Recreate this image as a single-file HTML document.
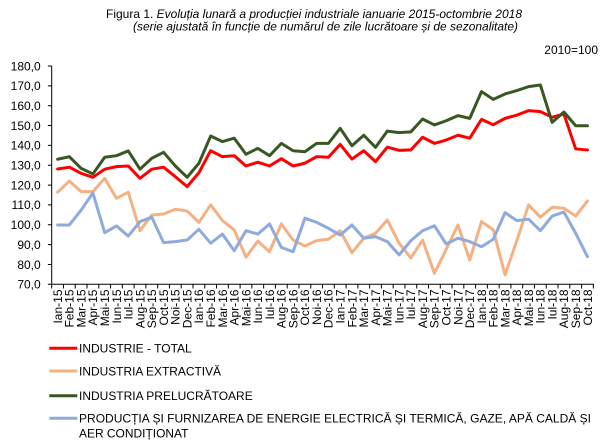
<!DOCTYPE html>
<html><head><meta charset="utf-8"><style>
html,body{margin:0;padding:0;background:#fff;}
svg{display:block;}
text{font-family:"Liberation Sans",Arial,sans-serif;font-size:12px;fill:#000;}
</style></head><body>
<svg width="612" height="443" viewBox="0 0 612 443" xmlns="http://www.w3.org/2000/svg">
<rect width="612" height="443" fill="#fff"/>
<!-- title -->
<text x="106" y="18" textLength="416" lengthAdjust="spacingAndGlyphs">Figura 1. <tspan font-style="italic">Evoluția lunară a producției industriale ianuarie 2015-octombrie 2018</tspan></text>
<text x="133" y="30.5" font-style="italic" textLength="385" lengthAdjust="spacingAndGlyphs">(serie ajustată în funcție de numărul de zile lucrătoare și de sezonalitate)</text>
<text x="598" y="54" text-anchor="end">2010=100</text>

<!-- axes -->
<line x1="51.7" y1="66" x2="51.7" y2="284.3" stroke="#000" stroke-width="1"/>
<line x1="51.2" y1="284.3" x2="593.8" y2="284.3" stroke="#000" stroke-width="1"/>
<line x1="49.8" y1="65.5" x2="49.8" y2="285" stroke="#000" stroke-width="3.8" stroke-dasharray="1 18.845"/>
<line x1="51.2" y1="286.4" x2="594.5" y2="286.4" stroke="#000" stroke-width="4.2" stroke-dasharray="1 10.775"/>

<!-- y labels -->
<g text-anchor="end">
<text x="40.7" y="70.3">180,0</text>
<text x="40.7" y="90.15">170,0</text>
<text x="40.7" y="110">160,0</text>
<text x="40.7" y="129.8">150,0</text>
<text x="40.7" y="149.7">140,0</text>
<text x="40.7" y="169.5">130,0</text>
<text x="40.7" y="189.4">120,0</text>
<text x="40.7" y="209.2">110,0</text>
<text x="40.7" y="229.1">100,0</text>
<text x="40.7" y="248.9">90,0</text>
<text x="40.7" y="268.8">80,0</text>
<text x="40.7" y="288.6">70,0</text>
</g>

<!-- x labels -->
<g text-anchor="end">
<text transform="translate(61.9,289.5) rotate(-90)">Ian-15</text>
<text transform="translate(73.68,289.5) rotate(-90)">Feb-15</text>
<text transform="translate(85.45,289.5) rotate(-90)">Mar-15</text>
<text transform="translate(97.23,289.5) rotate(-90)">Apr-15</text>
<text transform="translate(109,289.5) rotate(-90)">Mai-15</text>
<text transform="translate(120.78,289.5) rotate(-90)">Iun-15</text>
<text transform="translate(132.55,289.5) rotate(-90)">Iul-15</text>
<text transform="translate(144.33,289.5) rotate(-90)">Aug-15</text>
<text transform="translate(156.1,289.5) rotate(-90)">Sep-15</text>
<text transform="translate(167.88,289.5) rotate(-90)">Oct-15</text>
<text transform="translate(179.65,289.5) rotate(-90)">Noi-15</text>
<text transform="translate(191.43,289.5) rotate(-90)">Dec-15</text>
<text transform="translate(203.2,289.5) rotate(-90)">Ian-16</text>
<text transform="translate(214.98,289.5) rotate(-90)">Feb-16</text>
<text transform="translate(226.75,289.5) rotate(-90)">Mar-16</text>
<text transform="translate(238.53,289.5) rotate(-90)">Apr-16</text>
<text transform="translate(250.3,289.5) rotate(-90)">Mai-16</text>
<text transform="translate(262.08,289.5) rotate(-90)">Iun-16</text>
<text transform="translate(273.85,289.5) rotate(-90)">Iul-16</text>
<text transform="translate(285.63,289.5) rotate(-90)">Aug-16</text>
<text transform="translate(297.4,289.5) rotate(-90)">Sep-16</text>
<text transform="translate(309.18,289.5) rotate(-90)">Oct-16</text>
<text transform="translate(320.95,289.5) rotate(-90)">Noi-16</text>
<text transform="translate(332.73,289.5) rotate(-90)">Dec-16</text>
<text transform="translate(344.5,289.5) rotate(-90)">Ian-17</text>
<text transform="translate(356.28,289.5) rotate(-90)">Feb-17</text>
<text transform="translate(368.05,289.5) rotate(-90)">Mar-17</text>
<text transform="translate(379.83,289.5) rotate(-90)">Apr-17</text>
<text transform="translate(391.6,289.5) rotate(-90)">Mai-17</text>
<text transform="translate(403.38,289.5) rotate(-90)">Iun-17</text>
<text transform="translate(415.15,289.5) rotate(-90)">Iul-17</text>
<text transform="translate(426.93,289.5) rotate(-90)">Aug-17</text>
<text transform="translate(438.7,289.5) rotate(-90)">Sep-17</text>
<text transform="translate(450.48,289.5) rotate(-90)">Oct-17</text>
<text transform="translate(462.25,289.5) rotate(-90)">Noi-17</text>
<text transform="translate(474.03,289.5) rotate(-90)">Dec-17</text>
<text transform="translate(485.8,289.5) rotate(-90)">Ian-18</text>
<text transform="translate(497.58,289.5) rotate(-90)">Feb-18</text>
<text transform="translate(509.35,289.5) rotate(-90)">Mar-18</text>
<text transform="translate(521.13,289.5) rotate(-90)">Apr-18</text>
<text transform="translate(532.9,289.5) rotate(-90)">Mai-18</text>
<text transform="translate(544.68,289.5) rotate(-90)">Iun-18</text>
<text transform="translate(556.45,289.5) rotate(-90)">Iul-18</text>
<text transform="translate(568.23,289.5) rotate(-90)">Aug-18</text>
<text transform="translate(580,289.5) rotate(-90)">Sep-18</text>
<text transform="translate(591.78,289.5) rotate(-90)">Oct-18</text>
</g>

<!-- series -->
<g transform="matrix(11.775 0 0 -1.9845 57.6 423.2)" fill="none" stroke-width="3" stroke-linejoin="round" stroke-linecap="round">
<polyline vector-effect="non-scaling-stroke" stroke="#FF0000" points="0,128.1 1,129 2,125.9 3,123.9 4,128 5,129.3 6,129.6 7,123.4 8,128 9,129 10,124.2 11,119.2 12,126.2 13,137.3 14,134.3 15,134.8 16,129.6 17,131.5 18,129.6 19,133.3 20,129.6 21,131 22,134.3 23,134 24,140.5 25,133.1 26,137.3 27,131.8 28,139.1 29,137.5 30,137.7 31,144.1 32,141 33,142.7 34,145.1 35,143.6 36,153.1 37,150.4 38,153.6 39,155.2 40,157.5 41,157 42,154.2 43,155.8 44,138.2 45,137.7"/>
<polyline vector-effect="non-scaling-stroke" stroke="#F4B183" points="0,116.4 1,122 2,116.7 3,116.7 4,123.4 5,113.3 6,116.4 7,97 8,104.9 9,105.4 10,107.8 11,106.9 12,101.2 13,110 14,102.1 15,97.4 16,83.6 17,91.8 18,86.4 19,100.4 20,92.3 21,89.3 22,92 23,92.7 24,97 25,85.9 26,93.2 27,95.7 28,102.4 29,90.7 30,83.3 31,92.3 32,75.5 33,87.6 34,99.9 35,82.2 36,101.6 37,97.4 38,74.7 39,92 40,110 41,103.8 42,108.8 43,108.3 44,104.4 45,112"/>
<polyline vector-effect="non-scaling-stroke" stroke="#385723" points="0,133 1,134.3 2,128.4 3,125.6 4,134 5,134.8 6,137.2 7,128 8,133.5 9,136.5 10,129.6 11,123.9 12,131 13,144.7 14,141.9 15,143.6 16,135.5 17,138.5 18,134.8 19,141 20,137.3 21,136.8 22,141 23,141 24,148.6 25,139.8 26,145.1 27,139 28,147.2 29,146.4 30,146.8 31,153.3 32,150.3 33,152.4 34,155 35,153.6 36,167.1 37,163.2 38,165.9 39,167.6 40,169.6 41,170.4 42,151.6 43,156.8 44,149.9 45,149.9"/>
<polyline vector-effect="non-scaling-stroke" stroke="#8FAADC" points="0,99.9 1,99.9 2,107.4 3,116 4,96 5,99.4 6,94.3 7,101.6 8,103.8 9,91 10,91.5 11,92.3 12,97.7 13,90.7 14,95.3 15,86.9 16,97 17,95.3 18,100.4 19,88.6 20,86.4 21,103.3 22,101.2 23,98.2 24,94.8 25,99.9 26,93.2 27,94 28,91.5 29,84.8 30,92 31,97 32,99.5 33,90.3 34,93.2 35,91.5 36,88.9 37,92.7 38,106.1 39,102.1 40,102.8 41,97 42,104.4 43,106.4 44,95.7 45,83.9"/>
</g>

<!-- legend -->
<g stroke-width="3">
<line x1="49.3" y1="348.3" x2="77.3" y2="348.3" stroke="#FF0000"/>
<line x1="49.3" y1="371" x2="77.3" y2="371" stroke="#F4B183"/>
<line x1="49.3" y1="395.7" x2="77.3" y2="395.7" stroke="#385723"/>
<line x1="49.3" y1="418.3" x2="77.3" y2="418.3" stroke="#8FAADC"/>
</g>
<text x="79" y="352.5" textLength="112.7" lengthAdjust="spacingAndGlyphs">INDUSTRIE - TOTAL</text>
<text x="79" y="375.5" textLength="142" lengthAdjust="spacingAndGlyphs">INDUSTRIA EXTRACTIVĂ</text>
<text x="79" y="400" textLength="173.7" lengthAdjust="spacingAndGlyphs">INDUSTRIA PRELUCRĂTOARE</text>
<text x="79" y="422.7" textLength="512" lengthAdjust="spacingAndGlyphs">PRODUCȚIA ȘI FURNIZAREA DE ENERGIE ELECTRICĂ ȘI TERMICĂ, GAZE, APĂ CALDĂ ȘI</text>
<text x="79" y="437.3" textLength="109.4" lengthAdjust="spacingAndGlyphs">AER CONDIȚIONAT</text>
</svg>
</body></html>
